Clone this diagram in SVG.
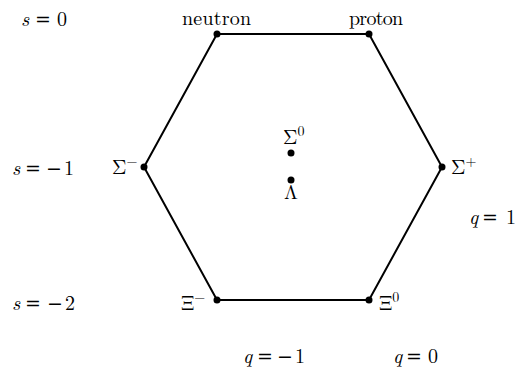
<svg xmlns="http://www.w3.org/2000/svg" width="516" height="369" viewBox="0 0 516 369">
<style>
text{font-family:"Latin Modern Roman","Liberation Serif","DejaVu Serif",serif;font-size:20px;fill:#000}
.i{font-style:italic}
.op{font-family:"DejaVu Serif","Liberation Serif",serif;font-size:19px}
.sup{font-size:14px}
.edge{stroke:#000;stroke-width:2;fill:none}
.dot{fill:#000}
</style>
<rect width="516" height="369" fill="#fff"/>
<g id="connectors">
<polygon class="edge" points="217,34 369,34 442,167 369,300 217,300 144,167"/>
</g>
<g id="neutron"><circle class="dot" cx="217" cy="34" r="3.5"/><text x="182" y="25" textLength="69">neutron</text></g>
<g id="proton"><circle class="dot" cx="369" cy="34" r="3.5"/><text x="349" y="25" textLength="54">proton</text></g>
<g id="sigma-plus"><circle class="dot" cx="442" cy="167" r="3.5"/><text x="451" y="174">Σ<tspan class="sup" dy="-8">+</tspan></text></g>
<g id="xi-zero"><circle class="dot" cx="369" cy="300" r="3.5"/><text x="379" y="310">Ξ<tspan class="sup" dy="-8">0</tspan></text></g>
<g id="xi-minus"><circle class="dot" cx="217" cy="300" r="3.5"/><text x="181" y="310">Ξ<tspan class="sup" dy="-8">−</tspan></text></g>
<g id="sigma-minus"><circle class="dot" cx="144" cy="167" r="3.5"/><text x="112" y="174">Σ<tspan class="sup" dy="-8">−</tspan></text></g>
<g id="sigma-zero"><circle class="dot" cx="291" cy="153" r="3.5"/><text x="283" y="144">Σ<tspan class="sup" dy="-8">0</tspan></text></g>
<g id="lambda"><circle class="dot" cx="291" cy="180" r="3.5"/><text x="284" y="199">Λ</text></g>
<g id="labels">
<text y="26"><tspan class="i" x="21">s</tspan><tspan class="op" x="35">=</tspan><tspan x="57">0</tspan></text>
<text y="175"><tspan class="i" x="12">s</tspan><tspan class="op" x="25">=</tspan><tspan class="op" x="46">−</tspan><tspan x="64">1</tspan></text>
<text y="310"><tspan class="i" x="12">s</tspan><tspan class="op" x="25">=</tspan><tspan class="op" x="47">−</tspan><tspan x="65">2</tspan></text>
<text y="224"><tspan class="i" x="469">q</tspan><tspan class="op" x="482">=</tspan><tspan x="506">1</tspan></text>
<text y="363"><tspan class="i" x="243">q</tspan><tspan class="op" x="257">=</tspan><tspan class="op" x="277">−</tspan><tspan x="295">1</tspan></text>
<text y="363"><tspan class="i" x="393">q</tspan><tspan class="op" x="406">=</tspan><tspan x="428">0</tspan></text>
</g>
</svg>
